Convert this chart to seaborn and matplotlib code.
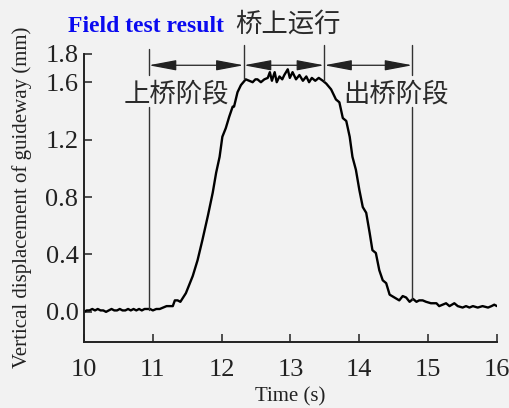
import matplotlib
matplotlib.use("Agg")
import matplotlib.pyplot as plt
import seaborn as sns
import pandas as pd

# ---- data ----
time_s = [10.00, 10.04, 10.08, 10.12, 10.16, 10.20, 10.24, 10.28, 10.32, 10.36,
          10.40, 10.44, 10.48, 10.52, 10.56, 10.60, 10.64, 10.68, 10.72, 10.76,
          10.80, 10.84, 10.88, 10.92, 10.96, 11.00, 11.05, 11.10, 11.15, 11.20,
          11.25, 11.29, 11.32, 11.36, 11.40, 11.44, 11.48, 11.53, 11.58, 11.65,
          11.72, 11.80, 11.87, 11.92, 11.97, 12.01, 12.06, 12.11, 12.16, 12.18,
          12.23, 12.28, 12.35, 12.40, 12.45, 12.49, 12.52, 12.57, 12.62, 12.67,
          12.70, 12.73, 12.77, 12.80, 12.84, 12.88, 12.91, 12.96, 12.99, 13.03,
          13.08, 13.13, 13.18, 13.23, 13.27, 13.31, 13.36, 13.41, 13.47, 13.52,
          13.59, 13.66, 13.71, 13.76, 13.81, 13.86, 13.90, 13.95, 14.00, 14.05,
          14.10, 14.15, 14.19, 14.24, 14.29, 14.34, 14.39, 14.44, 14.51, 14.58,
          14.63, 14.68, 14.73, 14.78, 14.83, 14.87, 14.92, 14.97, 15.04, 15.12,
          15.16, 15.21, 15.26, 15.31, 15.38, 15.43, 15.50, 15.55, 15.60, 15.65,
          15.72, 15.79, 15.87, 15.92, 15.96, 16.00]
displacement_mm = [0.00, 0.01, 0.01, 0.02, 0.01, 0.02, 0.01, 0.01, 0.00, 0.01,
                   0.02, 0.01, 0.01, 0.02, 0.01, 0.01, 0.02, 0.01, 0.02, 0.01,
                   0.02, 0.01, 0.02, 0.02, 0.02, 0.01, 0.02, 0.02, 0.03, 0.04,
                   0.04, 0.04, 0.08, 0.08, 0.07, 0.10, 0.13, 0.19, 0.25, 0.36,
                   0.50, 0.67, 0.83, 0.97, 1.08, 1.22, 1.28, 1.36, 1.43, 1.43,
                   1.53, 1.58, 1.62, 1.61, 1.60, 1.62, 1.62, 1.60, 1.62, 1.63,
                   1.67, 1.61, 1.67, 1.60, 1.64, 1.62, 1.65, 1.69, 1.63, 1.67,
                   1.62, 1.65, 1.61, 1.64, 1.60, 1.63, 1.61, 1.63, 1.61, 1.59,
                   1.55, 1.48, 1.46, 1.35, 1.33, 1.22, 1.08, 0.99, 0.85, 0.73,
                   0.69, 0.55, 0.43, 0.41, 0.29, 0.22, 0.20, 0.12, 0.10, 0.08,
                   0.11, 0.10, 0.07, 0.09, 0.07, 0.08, 0.08, 0.07, 0.06, 0.06,
                   0.04, 0.05, 0.06, 0.04, 0.06, 0.04, 0.03, 0.04, 0.03, 0.04,
                   0.03, 0.04, 0.03, 0.04, 0.05, 0.04]

phase_bounds = [10.94, 12.32, 13.49, 14.77]
phase_labels = ["上桥阶段", "出桥阶段"]
x_ticks = [10, 11, 12, 13, 14, 15, 16]
y_ticks = [0.0, 0.4, 0.8, 1.2, 1.6, 1.8]

BG = "#f2f2f2"
SERIF = ["Liberation Serif", "DejaVu Serif"]
CJK = ["Noto Sans CJK SC", "DejaVu Sans"]

sns.set_theme(style="ticks")
plt.rcParams["font.family"] = SERIF
plt.rcParams["axes.facecolor"] = BG
plt.rcParams["figure.facecolor"] = BG

fig = plt.figure(figsize=(5.1, 4.08), dpi=100)
ax = fig.add_axes([84 / 510, 1 - 342 / 408, (497 - 84) / 510, (342 - 53.5) / 408])

df = pd.DataFrame({"t": time_s, "d": displacement_mm})
sns.lineplot(data=df, x="t", y="d", ax=ax, color="black", lw=1.7)

ax.set_xlim(10, 16)
ax.set_ylim(-0.21, 1.8)
ax.set_xticks(x_ticks)
ax.set_xticklabels([str(v) for v in x_ticks])
ax.set_yticks(y_ticks)
ax.set_yticklabels([f"{v:.1f}" for v in y_ticks])
for s in ["top", "right"]:
    ax.spines[s].set_visible(False)
for s in ["left", "bottom"]:
    ax.spines[s].set_linewidth(1.4)
    ax.spines[s].set_color("#222222")
ax.tick_params(direction="in", length=6, width=1.1, labelsize=19, color="#222222",
               labelcolor="#222222")
ax.tick_params(axis="x", pad=12)
ax.tick_params(axis="y", pad=4)

ax.set_xlabel("Time (s)", fontsize=15, color="#222222")
ax.xaxis.set_label_coords(0.5, -0.158)
ax.set_ylabel("Vertical displacement of guideway (mm)", fontsize=15, color="#222222")
ax.yaxis.set_label_coords(-0.125, 0.5)

# phase boundary lines
lc = "#333333"
y_arrow = 1.718
segs = [
    (phase_bounds[0], [(1.83, 1.65), (1.43, 0.01)]),
    (phase_bounds[1], [(1.86, 1.62)]),
    (phase_bounds[2], [(1.86, 1.61)]),
    (phase_bounds[3], [(1.86, 1.65), (1.43, 0.08)]),
]
for xv, parts in segs:
    for y0, y1 in parts:
        ax.plot([xv, xv], [y0, y1], color=lc, lw=1.0, clip_on=False)

for a, b in zip(phase_bounds[:-1], phase_bounds[1:]):
    ax.annotate("", xy=(b, y_arrow), xytext=(a, y_arrow), annotation_clip=False,
                arrowprops=dict(arrowstyle="<|-|>,head_length=1.7,head_width=0.32",
                                color="#222222", lw=0.9, shrinkA=0, shrinkB=0,
                                mutation_scale=10))

ax.text(11.34, 1.52, phase_labels[0], ha="center", va="center", fontsize=19,
        family=CJK, color="#2a2a2a")
ax.text(14.53, 1.52, phase_labels[1], ha="center", va="center", fontsize=19,
        family=CJK, color="#2a2a2a")

fig.text(68 / 510, 1 - 32 / 408, "Field test result", fontsize=17, fontweight="bold",
         color="#0a0af0", family=SERIF, va="baseline", ha="left")
fig.text(235 / 510, 1 - 32 / 408, "桥上运行", fontsize=19, color="#2a2a2a",
         family=CJK, va="baseline", ha="left")

fig.savefig("out.png", dpi=100, facecolor=BG)
